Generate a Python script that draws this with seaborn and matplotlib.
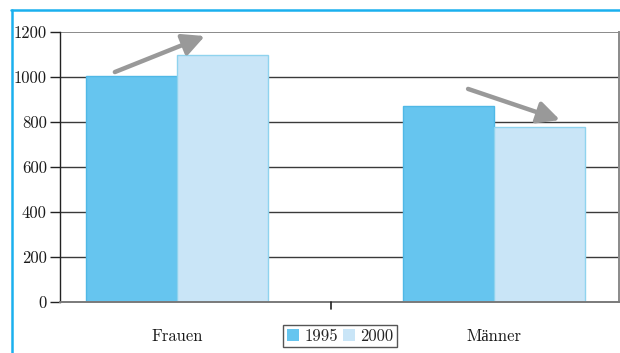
import matplotlib
matplotlib.use("Agg")
import matplotlib.pyplot as plt
import seaborn as sns
import pandas as pd
from matplotlib.lines import Line2D
from matplotlib.patches import Patch

# Data
categories = ["Frauen", "Männer"]
years = ["1995", "2000"]
values_1995 = [1005, 870]
values_2000 = [1100, 780]
y_ticks = [0, 200, 400, 600, 800, 1000, 1200]

colors = {"1995": "#66C5EF", "2000": "#C9E5F7"}
edges = {"1995": "#4FB8E6", "2000": "#8FD3EE"}

df = pd.DataFrame({
    "Geschlecht": categories * 2,
    "Jahr": [years[0]] * 2 + [years[1]] * 2,
    "Wert": values_1995 + values_2000,
})

sns.set_theme(style="white")
plt.rcParams["font.family"] = ["cmr10", "Liberation Serif"]
plt.rcParams["axes.formatter.use_mathtext"] = True

fig = plt.figure(figsize=(6.2, 3.53), dpi=100)
ax = fig.add_axes([60 / 620, 1 - 302 / 353, 559 / 620, 270 / 353])

sns.barplot(data=df, x="Geschlecht", y="Wert", hue="Jahr", order=categories,
            hue_order=years, palette=colors, width=0.574, ax=ax,
            saturation=1, legend=False, zorder=3)

# bar outlines per series
for cont, yr in zip(ax.containers, years):
    for bar in cont:
        bar.set_edgecolor(edges[yr])
        bar.set_linewidth(1.0)

ax.set_xlim(-0.369, 1.394)
ax.set_ylim(0, 1200)
ax.set_yticks(y_ticks)
ax.set_yticklabels([str(v) for v in y_ticks])

# horizontal rules
for v in y_ticks[1:-1]:
    ax.axhline(v, color="#3a3a3a", lw=1.0, zorder=1)
ax.axhline(1200, color="#8a8a8a", lw=1.4, zorder=1)

ax.spines["top"].set_visible(False)
ax.spines["left"].set_color("#222222")
ax.spines["left"].set_linewidth(1.0)
ax.spines["bottom"].set_color("#7a7a7a")
ax.spines["bottom"].set_linewidth(1.4)
ax.spines["right"].set_color("#8a8a8a")
ax.spines["right"].set_linewidth(1.4)
ax.spines["bottom"].set_zorder(4)

ax.tick_params(axis="y", direction="out", length=7, width=1.0, color="#222222",
               left=True, pad=2.5, labelsize=12, labelcolor="#1a1a1a")
ax.tick_params(axis="x", length=0, pad=19, labelsize=12, labelcolor="#1a1a1a")
ax.set_xlabel("")
ax.set_ylabel("")

# separator tick between the groups
ax.add_line(Line2D([0.487, 0.487], [0, -30], color="#222222", lw=1.2,
                   clip_on=False, zorder=5))

# trend arrows
arrow_kw = dict(arrowstyle="-|>,head_length=1.1,head_width=0.55",
                color="#999999", lw=3.2, shrinkA=0, shrinkB=0)
ax.annotate("", xy=(0.088, 1182), xytext=(-0.196, 1022),
            arrowprops=arrow_kw, annotation_clip=False, zorder=6)
ax.annotate("", xy=(1.208, 809), xytext=(0.918, 947),
            arrowprops=arrow_kw, annotation_clip=False, zorder=6)

# legend
handles = [Patch(facecolor=colors[y], edgecolor="none", label=y) for y in years]
leg = fig.legend(handles=handles, loc="upper center", ncol=2,
                 bbox_to_anchor=(340 / 620, 1 - 325 / 353),
                 frameon=True, fancybox=False, edgecolor="#555555",
                 fontsize=12, handlelength=0.75, handleheight=0.75,
                 handletextpad=0.3, columnspacing=0.3, borderpad=0.2,
                 borderaxespad=0)
leg.get_frame().set_linewidth(1.0)
leg.get_frame().set_alpha(1)

# outer frame
fig.add_artist(Line2D([11 / 620, 1.0], [1 - 10 / 353] * 2, color="#1AB0EE",
                      lw=1.8, transform=fig.transFigure))
fig.add_artist(Line2D([11.5 / 620] * 2, [0, 1 - 10 / 353], color="#1AB0EE",
                      lw=1.8, transform=fig.transFigure))

fig.savefig("out.png", dpi=100)
